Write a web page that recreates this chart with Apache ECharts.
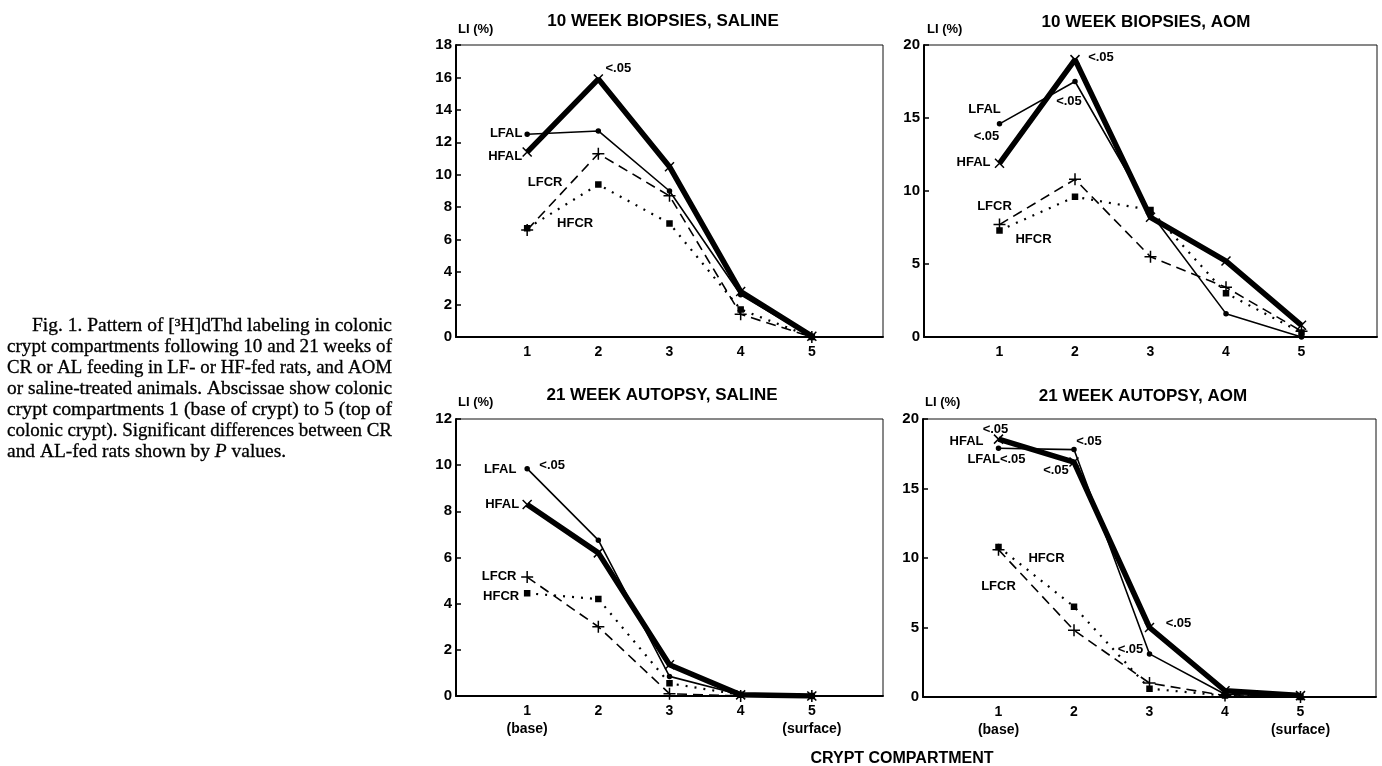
<!DOCTYPE html>
<html><head><meta charset="utf-8">
<script src="https://cdn.jsdelivr.net/npm/echarts@6/dist/echarts.min.js"></script>
<style>html,body{margin:0;padding:0;background:#fff}#c{width:1382px;height:766px}</style>
</head><body><div id="c"></div>
<script>
// ---------- data ----------
const compartments = [1, 2, 3, 4, 5];
const panelTitles = ['10 WEEK BIOPSIES, SALINE', '10 WEEK BIOPSIES, AOM', '21 WEEK AUTOPSY, SALINE', '21 WEEK AUTOPSY, AOM'];
const yMax = [18, 20, 12, 20];
const yStep = [2, 5, 2, 5];
const xTickLabelsTop = ['', '1', '2', '3', '4', '5', ''];
const xTickLabelsBottom = ['', '1\n(base)', '2', '3', '4', '5\n(surface)', ''];
const seriesNames = ['HFCR', 'LFCR', 'LFAL', 'HFAL'];

// 10 week biopsies, saline
const sal10_HFAL = [11.4, 15.9, 10.5, 2.8, 0.05];
const sal10_LFAL = [12.5, 12.7, 9.0, 2.6, 0];
const sal10_LFCR = [6.6, 11.3, 8.7, 1.4, 0];
const sal10_HFCR = [6.7, 9.4, 7.0, 1.7, 0];
// 10 week biopsies, AOM
const aom10_HFAL = [11.9, 19.0, 8.2, 5.2, 0.8];
const aom10_LFAL = [14.6, 17.5, 8.5, 1.6, 0];
const aom10_LFCR = [7.7, 10.8, 5.5, 3.4, 0.4];
const aom10_HFCR = [7.3, 9.6, 8.7, 3.0, 0.3];
// 21 week autopsy, saline
const sal21_HFAL = [8.3, 6.2, 1.35, 0.05, 0];
const sal21_LFAL = [9.85, 6.75, 0.85, 0.05, 0];
const sal21_LFCR = [5.15, 3.0, 0.1, 0, 0];
const sal21_HFCR = [4.45, 4.2, 0.55, 0.05, 0];
// 21 week autopsy, AOM
const aom21_HFAL = [18.55, 16.9, 5.0, 0.45, 0.1];
const aom21_LFAL = [17.9, 17.8, 3.1, 0.2, 0];
const aom21_LFCR = [10.6, 4.8, 1.0, 0.1, 0];
const aom21_HFCR = [10.8, 6.5, 0.6, 0.1, 0];

const panelData = [
  { HFAL: sal10_HFAL, LFAL: sal10_LFAL, LFCR: sal10_LFCR, HFCR: sal10_HFCR },
  { HFAL: aom10_HFAL, LFAL: aom10_LFAL, LFCR: aom10_LFCR, HFCR: aom10_HFCR },
  { HFAL: sal21_HFAL, LFAL: sal21_LFAL, LFCR: sal21_LFCR, HFCR: sal21_HFCR },
  { HFAL: aom21_HFAL, LFAL: aom21_LFAL, LFCR: aom21_LFCR, HFCR: aom21_HFCR }
];

// annotations: panel, series, point index, text, label offset (px)
const notes = [
  [0, 'HFAL', 1, '<.05', 20, -11], [0, 'LFAL', 0, 'LFAL', -21, -1], [0, 'HFAL', 0, 'HFAL', -22, 4],
  [0, 'LFCR', 0, 'LFCR', 18, -48], [0, 'HFCR', 0, 'HFCR', 48, -5],
  [1, 'HFAL', 1, '<.05', 26, -2], [1, 'LFAL', 1, '<.05', -6, 20], [1, 'LFAL', 0, 'LFAL', -15, -14],
  [1, 'HFAL', 0, '<.05', -13, -27], [1, 'HFAL', 0, 'HFAL', -26, -1], [1, 'LFCR', 0, 'LFCR', -5, -18],
  [1, 'HFCR', 0, 'HFCR', 34, 9],
  [2, 'LFAL', 0, 'LFAL', -27, 1], [2, 'LFAL', 0, '<.05', 25, -3], [2, 'HFAL', 0, 'HFAL', -25, 0],
  [2, 'LFCR', 0, 'LFCR', -28, -1], [2, 'HFCR', 0, 'HFCR', -26, 3],
  [3, 'HFAL', 0, '<.05', -3, -10], [3, 'HFAL', 0, 'HFAL', -32, 2], [3, 'LFAL', 1, '<.05', 15, -8],
  [3, 'LFAL', 0, 'LFAL<.05', -2, 11], [3, 'HFAL', 1, '<.05', -18, 8], [3, 'HFCR', 0, 'HFCR', 48, 12],
  [3, 'LFCR', 0, 'LFCR', 0, 37], [3, 'LFCR', 2, '<.05', -19, -34], [3, 'HFAL', 2, '<.05', 29, -4]
];

const captionLines = [
  'Fig. 1. Pattern of [³H]dThd labeling in colonic',
  'crypt compartments following 10 and 21 weeks of',
  'CR or AL feeding in LF- or HF-fed rats, and AOM',
  'or saline-treated animals. Abscissae show colonic',
  'crypt compartments 1 (base of crypt) to 5 (top of',
  'colonic crypt). Significant differences between CR',
  'and AL-fed rats shown by {i|P} values.'
];

// ---------- layout / style ----------
const SANS = '"Liberation Sans", Arial, Helvetica, sans-serif';
const SERIF = '"Liberation Serif", "Times New Roman", serif';
const grids = [
  { left: 456, top: 45, width: 427, height: 292 },
  { left: 924, top: 45, width: 453, height: 292 },
  { left: 456, top: 419, width: 427, height: 277 },
  { left: 923, top: 419, width: 453, height: 278 }
];
const styleBy = {
  HFAL: { width: 5.5, type: 'solid', symbol: 'path://M0,0L10,10M10,0L0,10', size: 9, z: 5 },
  LFAL: { width: 1.6, type: 'solid', symbol: 'circle', size: 4, z: 4 },
  LFCR: { width: 1.6, type: [10, 6], symbol: 'path://M5,0L5,10M0,5L10,5', size: 12, z: 3 },
  HFCR: { width: 2.2, type: [2, 7], symbol: 'rect', size: 5, z: 2 }
};

const xAxes = [], yAxes = [], series = [], graphics = [];
grids.forEach((g, i) => {
  g.show = true; g.borderColor = '#111'; g.borderWidth = 1; g.outerBoundsMode = 'none';
  const labels = i < 2 ? xTickLabelsTop : xTickLabelsBottom;
  xAxes.push({
    gridIndex: i, type: 'value', min: 0, max: 6, interval: 1,
    axisLine: { show: true, lineStyle: { color: '#000', width: 2 } },
    axisTick: { show: false }, splitLine: { show: false },
    axisLabel: { margin: 6, color: '#000', fontFamily: SANS, fontWeight: 'bold', fontSize: 14, lineHeight: 18,
      formatter: v => labels[Math.round(v)] || '' }
  });
  yAxes.push({
    gridIndex: i, type: 'value', min: 0, max: yMax[i], interval: yStep[i],
    axisLine: { show: true, lineStyle: { color: '#000', width: 2 } },
    axisTick: { show: true, inside: true, length: 5, lineStyle: { color: '#000', width: 1.5 } },
    splitLine: { show: false },
    axisLabel: { margin: 4, color: '#000', fontFamily: SANS, fontWeight: 'bold', fontSize: 15 }
  });
  seriesNames.forEach(name => {
    const st = styleBy[name];
    const vals = panelData[i][name];
    const mp = notes.filter(n => n[0] === i && n[1] === name).map(n => ({
      coord: [compartments[n[2]], vals[n[2]]],
      label: { show: true, formatter: n[3], position: 'inside', offset: [n[4], n[5]] }
    }));
    series.push({
      type: 'line', name: name, xAxisIndex: i, yAxisIndex: i, z: st.z,
      data: compartments.map((c, k) => [c, vals[k]]),
      symbol: st.symbol, symbolSize: st.size, showSymbol: true, showAllSymbol: true,
      lineStyle: { color: '#000', width: st.width, type: st.type },
      itemStyle: { color: '#000', borderColor: '#000', borderWidth: 1.5 },
      markPoint: mp.length ? {
        symbol: 'rect', symbolSize: 1, itemStyle: { color: 'rgba(0,0,0,0)' }, z: 10,
        label: { color: '#000', fontFamily: SANS, fontWeight: 'bold', fontSize: 13 },
        data: mp
      } : undefined
    });
  });
});

// titles and axis names
const titlePos = [[663, 21], [1146, 22], [662, 395], [1143, 396]];
const liPos = [[458, 29], [927, 29], [458, 402], [925, 402]];
panelTitles.forEach((t, i) => {
  graphics.push({ type: 'text', x: titlePos[i][0], y: titlePos[i][1],
    style: { text: t, fill: '#000', font: 'bold 17px ' + SANS, textAlign: 'center', textVerticalAlign: 'middle' } });
  graphics.push({ type: 'text', x: liPos[i][0], y: liPos[i][1],
    style: { text: 'LI (%)', fill: '#000', font: 'bold 13px ' + SANS, textAlign: 'left', textVerticalAlign: 'middle' } });
});
graphics.push({ type: 'text', x: 902, y: 759,
  style: { text: 'CRYPT COMPARTMENT', fill: '#000', font: 'bold 16px ' + SANS, textAlign: 'center', textVerticalAlign: 'middle' } });

// caption (justified by horizontal scaling)
const ctx = document.createElement('canvas').getContext('2d');
const capSize = 18.5;
const capFont = capSize + 'px ' + SERIF;
ctx.font = capFont;
captionLines.forEach((line, k) => {
  const plain = line.replace('{i|P}', 'P');
  const w = ctx.measureText(plain).width;
  const x0 = k === 0 ? 32 : 7;
  const x1 = k === captionLines.length - 1 ? 285 : 392;
  graphics.push({ type: 'text', x: x0, y: 326 + k * 21, scaleX: (x1 - x0) / w, scaleY: 1,
    style: { text: line, fill: '#000', font: capFont, textAlign: 'left', textVerticalAlign: 'middle',
      stroke: '#000', lineWidth: 0.3,
      rich: { i: { fontFamily: SERIF, fontSize: capSize, fontStyle: 'italic', fill: '#000' } } } });
});

const chart = echarts.init(document.getElementById('c'), null, { renderer: 'canvas' });
chart.setOption({
  backgroundColor: '#fff', animation: false,
  grid: grids, xAxis: xAxes, yAxis: yAxes, series: series, graphic: graphics
});
</script></body></html>
